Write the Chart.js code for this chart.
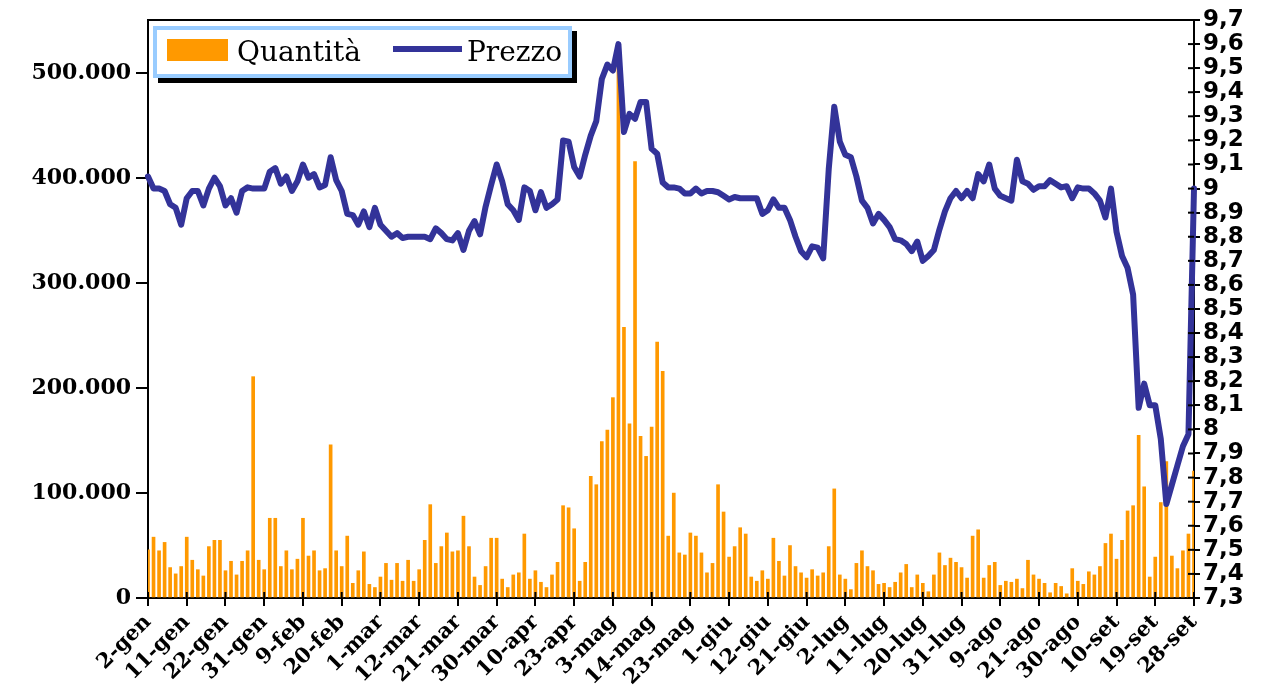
<!DOCTYPE html>
<html>
<head>
<meta charset="utf-8">
<script src="https://cdn.jsdelivr.net/npm/chart.js@4/dist/chart.umd.min.js"></script>
<style>
html,body{margin:0;padding:0;background:#fff;}
#wrap{width:1266px;height:690px;position:relative;}
</style>
</head>
<body>
<div id="wrap"><canvas id="c" width="1266" height="690"></canvas></div>
<script>
const tickLabels = ["2-gen","11-gen","22-gen","31-gen","9-feb","20-feb","1-mar","12-mar","21-mar","30-mar","10-apr","23-apr","3-mag","14-mag","23-mag","1-giu","12-giu","21-giu","2-lug","11-lug","20-lug","31-lug","9-ago","21-ago","30-ago","10-set","19-set","28-set"];

const quantita = [
46000,58000,45000,53000,29000,23000,30000,58000,36000,27000,
21000,49000,55000,55000,26000,35000,22000,35000,45000,211000,
36000,27000,76000,76000,30000,45000,27000,37000,76000,40000,
45000,26000,28000,146000,45000,30000,59000,14000,26000,44000,
13000,10000,20000,33000,17000,33000,16000,36000,16000,27000,
55000,89000,33000,49000,62000,44000,45000,78000,49000,20000,
12000,30000,57000,57000,18000,10000,22000,24000,61000,18000,
26000,15000,10000,22000,34000,88000,86000,66000,16000,34000,
116000,108000,149000,160000,191000,525000,258000,166000,416000,154000,
135000,163000,244000,216000,59000,100000,43000,41000,62000,59000,
43000,24000,33000,108000,82000,39000,49000,67000,61000,20000,
16000,26000,18000,57000,35000,21000,50000,30000,24000,19000,
27000,21000,24000,49000,104000,22000,18000,8000,33000,45000,
30000,26000,13000,14000,10000,15000,24000,32000,10000,22000,
14000,6000,22000,43000,31000,38000,34000,29000,19000,59000,
65000,19000,31000,34000,12000,16000,15000,18000,9000,36000,
22000,18000,14000,5000,14000,11000,4000,28000,16000,13000,
25000,22000,30000,52000,61000,37000,55000,83000,88000,155000,
106000,20000,39000,91000,130000,40000,28000,45000,61000,121000
];

const prezzo = [
9.05,9.00,9.00,8.99,8.935,8.92,8.85,8.96,8.99,8.99,
8.93,9.00,9.045,9.01,8.93,8.96,8.90,8.99,9.005,9.00,
9.00,9.00,9.07,9.085,9.02,9.05,8.99,9.03,9.10,9.045,
9.06,9.005,9.015,9.13,9.035,8.99,8.895,8.89,8.85,8.905,
8.84,8.92,8.85,8.825,8.80,8.815,8.795,8.80,8.80,8.80,
8.80,8.79,8.835,8.815,8.79,8.785,8.815,8.745,8.825,8.865,
8.81,8.925,9.015,9.10,9.03,8.935,8.91,8.87,9.005,8.99,
8.91,8.985,8.92,8.935,8.955,9.20,9.195,9.09,9.05,9.14,
9.22,9.28,9.455,9.515,9.49,9.60,9.235,9.31,9.29,9.36,
9.36,9.165,9.145,9.025,9.005,9.005,9.00,8.98,8.98,9.00,
8.98,8.99,8.99,8.985,8.97,8.955,8.965,8.96,8.96,8.96,
8.96,8.895,8.91,8.955,8.92,8.92,8.87,8.80,8.74,8.715,
8.76,8.755,8.71,9.08,9.34,9.195,9.14,9.13,9.05,8.95,
8.92,8.855,8.895,8.87,8.84,8.79,8.785,8.77,8.74,8.78,
8.70,8.72,8.745,8.83,8.905,8.96,8.99,8.96,8.99,8.96,
9.06,9.03,9.10,9.00,8.97,8.96,8.95,9.12,9.03,9.02,
8.995,9.01,9.01,9.035,9.02,9.005,9.01,8.96,9.005,9.00,
9.00,8.98,8.95,8.88,9.00,8.82,8.72,8.67,8.56,8.09,
8.19,8.10,8.10,7.96,7.69,7.77,7.85,7.93,7.98,9.00
];

const labelStep = 7;
const lastIndex = prezzo.length - 1;
const qtyStep = 100000;
const qtyTop = 500000;

const qtyPoints = quantita.map((v, i) => ({x: i, y: v}));
const pricePoints = prezzo.map((v, i) => ({x: i, y: v}));

const frameAndTicks = {
  id: 'frameAndTicks',
  afterDraw(chart) {
    const ctx = chart.ctx, a = chart.chartArea;
    ctx.save();
    ctx.strokeStyle = '#000';
    ctx.lineWidth = 2;
    ctx.beginPath();
    ctx.moveTo(a.left, a.top);
    ctx.lineTo(a.right, a.top);
    ctx.stroke();
    const xs = chart.scales.x;
    xs.ticks.forEach(t => {
      const px = xs.getPixelForValue(t.value);
      ctx.beginPath();
      ctx.moveTo(px, a.bottom - 6);
      ctx.lineTo(px, a.bottom);
      ctx.stroke();
    });
    const ys = chart.scales.yR;
    ys.ticks.forEach(t => {
      const py = ys.getPixelForValue(t.value);
      ctx.beginPath();
      ctx.moveTo(a.right - 6, py);
      ctx.lineTo(a.right, py);
      ctx.stroke();
    });
    // legend box
    const lx = a.left + 5, ly = a.top + 6, lw = 419, lh = 52;
    ctx.fillStyle = '#000';
    ctx.fillRect(lx + 5, ly + 5, lw, lh);
    ctx.fillStyle = '#fff';
    ctx.fillRect(lx, ly, lw, lh);
    ctx.strokeStyle = '#99CCFF';
    ctx.lineWidth = 4;
    ctx.strokeRect(lx + 2, ly + 2, lw - 4, lh - 4);
    const ds = chart.data.datasets;
    ctx.fillStyle = ds[0].backgroundColor;
    ctx.fillRect(lx + 14, ly + 13, 61, 22);
    ctx.fillStyle = '#000';
    ctx.font = "28px 'DejaVu Serif', serif";
    ctx.textBaseline = 'alphabetic';
    ctx.textAlign = 'left';
    ctx.fillText(ds[0].label, lx + 84, ly + 35);
    ctx.strokeStyle = ds[1].borderColor;
    ctx.lineWidth = 6;
    ctx.beginPath();
    ctx.moveTo(lx + 240, ly + 23);
    ctx.lineTo(lx + 309, ly + 23);
    ctx.stroke();
    ctx.fillText(ds[1].label, lx + 314, ly + 35);
    ctx.restore();
  }
};

new Chart(document.getElementById('c'), {
  data: {
    datasets: [
      {
        type: 'bar',
        label: 'Quantità',
        data: qtyPoints,
        backgroundColor: '#FF9900',
        borderWidth: 0,
        barThickness: 3,
        xAxisID: 'x',
        yAxisID: 'y',
        order: 2
      },
      {
        type: 'line',
        label: 'Prezzo',
        data: pricePoints,
        borderColor: '#333399',
        backgroundColor: '#333399',
        borderWidth: 6,
        pointRadius: 0,
        tension: 0,
        borderJoinStyle: 'round',
        borderCapStyle: 'round',
        xAxisID: 'x',
        yAxisID: 'yR',
        order: 1,
        clip: false
      }
    ]
  },
  options: {
    responsive: false,
    animation: false,
    events: [],
    layout: {padding: {top: 20, left: 0, right: 0, bottom: 0}},
    plugins: {legend: {display: false}, tooltip: {enabled: false}},
    scales: {
      x: {
        type: 'linear',
        position: 'bottom',
        offset: false,
        min: 0,
        max: lastIndex,
        afterBuildTicks(s) {
          const t = [];
          for (let v = 0; v <= lastIndex; v += labelStep) t.push({value: v});
          s.ticks = t;
        },
        afterFit(s) { s.height = 92; },
        ticks: {
          autoSkip: false,
          maxRotation: 45,
          minRotation: 45,
          padding: 4,
          color: '#000',
          font: {family: "'DejaVu Serif', serif", weight: 'bold', size: 21},
          callback: (v) => tickLabels[Math.round(v / labelStep)] ?? ''
        },
        grid: {offset: false, drawOnChartArea: false, drawTicks: true, tickLength: 8, color: '#000', lineWidth: 2},
        border: {display: true, color: '#000', width: 2}
      },
      y: {
        type: 'linear',
        position: 'left',
        min: 0,
        max: 551000,
        afterBuildTicks(s) {
          const t = [];
          for (let v = 0; v <= qtyTop; v += qtyStep) t.push({value: v});
          s.ticks = t;
        },
        afterFit(s) { s.width = 148; },
        ticks: {
          padding: 5,
          color: '#000',
          font: {family: "'DejaVu Serif', serif", weight: 'bold', size: 22},
          callback: (v) => Math.round(v).toString().replace(/\B(?=(\d{3})+(?!\d))/g, '.')
        },
        grid: {drawOnChartArea: false, drawTicks: true, tickLength: 12, color: '#000', lineWidth: 2},
        border: {display: true, color: '#000', width: 2}
      },
      yR: {
        type: 'linear',
        position: 'right',
        min: 7.3,
        max: 9.7,
        afterFit(s) { s.width = 72; },
        ticks: {
          stepSize: 0.1,
          autoSkip: false,
          padding: 3,
          color: '#000',
          font: {family: "'DejaVu Sans', sans-serif", weight: 'bold', size: 23},
          callback: (v) => {
            const r = Math.round(v * 10) / 10;
            return (Number.isInteger(r) ? String(r) : r.toFixed(1)).replace('.', ',');
          }
        },
        grid: {drawOnChartArea: false, drawTicks: true, tickLength: 6, color: '#000', lineWidth: 2},
        border: {display: true, color: '#000', width: 2}
      }
    }
  },
  plugins: [frameAndTicks]
});
</script>
</body>
</html>
